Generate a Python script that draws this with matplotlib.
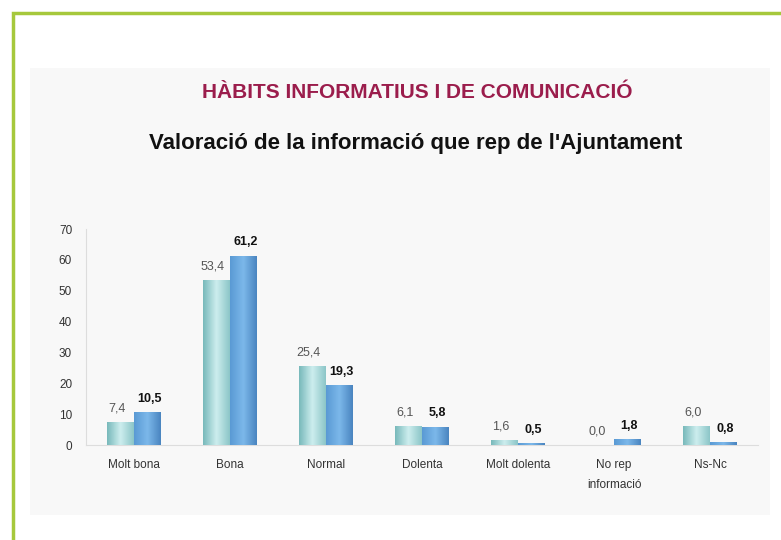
import numpy as np
import matplotlib.pyplot as plt
from matplotlib.patches import Rectangle
from matplotlib.colors import LinearSegmentedColormap

plt.rcParams['font.family'] = ['Liberation Sans', 'DejaVu Sans']

categories = ["Molt bona", "Bona", "Normal", "Dolenta", "Molt dolenta", "No rep\ninformació", "Ns-Nc"]
serie_a = [7.4, 53.4, 25.4, 6.1, 1.6, 0.0, 6.0]
serie_b = [10.5, 61.2, 19.3, 5.8, 0.5, 1.8, 0.8]
labels_a = ["7,4", "53,4", "25,4", "6,1", "1,6", "0,0", "6,0"]
labels_b = ["10,5", "61,2", "19,3", "5,8", "0,5", "1,8", "0,8"]
yticks = [0, 10, 20, 30, 40, 50, 60, 70]

fig = plt.figure(figsize=(7.81, 5.40), dpi=100)
fig.patch.set_facecolor("white")

# light grey panel behind the chart
fig.patches.append(Rectangle((30/781, 1 - 515/540), 740/781, 447/540, transform=fig.transFigure,
                             facecolor="#f8f8f8", edgecolor="none", zorder=-2))
# green frame (right/bottom edges run off the picture)
fig.patches.append(Rectangle((13/781, -0.1), 1.2, 1 - 13/540 + 0.1, transform=fig.transFigure,
                             fill=False, edgecolor="#a6c83c", linewidth=2.5, zorder=-1))

fig.text(0.534, 1 - 92/540, "HÀBITS INFORMATIUS I DE COMUNICACIÓ", ha="center", va="center",
         fontsize=15, fontweight="bold", color="#9b1d4c")
fig.text(0.532, 1 - 143/540, "Valoració de la informació que rep de l'Ajuntament", ha="center", va="center",
         fontsize=16, fontweight="bold", color="#111111")

ax = fig.add_axes([86/781, 1 - 445/540, 672/781, 216/540])
ax.set_facecolor("none")

x = np.arange(len(categories))
w = 0.28
bars_a = ax.bar(x - w/2, serie_a, w, color="#a6dada", zorder=2)
bars_b = ax.bar(x + w/2, serie_b, w, color="#5d9fd6", zorder=2)

cm_a = LinearSegmentedColormap.from_list("a", ["#78b9bb", "#cdeeee", "#8cc6c8"])
cm_b = LinearSegmentedColormap.from_list("b", ["#5a9ad4", "#7cb8ea", "#4a85c0"])
grad = np.linspace(0, 1, 64).reshape(1, -1)
for bars, cm in ((bars_a, cm_a), (bars_b, cm_b)):
    for b in bars:
        if b.get_height() <= 0:
            continue
        x0 = b.get_x()
        ax.imshow(grad, cmap=cm, aspect="auto", zorder=3,
                  extent=[x0, x0 + b.get_width(), 0, b.get_height()])

for i in range(len(categories)):
    ax.text(x[i] - w/2 - 0.04, max(serie_a[i], 0) + 2.5, labels_a[i], ha="center", va="bottom",
            fontsize=9, color="#555555", zorder=4)
    ax.text(x[i] + w/2 + 0.02, max(serie_b[i], 0) + 2.5, labels_b[i], ha="center", va="bottom",
            fontsize=9, fontweight="bold", color="#111111", zorder=4)

ax.set_xlim(-0.5, len(categories) - 0.5)
ax.set_ylim(0, 70)
ax.set_yticks(yticks)
ax.set_yticklabels([str(t) for t in yticks], fontsize=8.5, color="#333333")
ax.set_xticks(x)
ax.set_xticklabels(categories, fontsize=8.5, color="#333333", linespacing=1.9)
ax.tick_params(axis="x", length=0, pad=10)
ax.tick_params(axis="y", length=0, pad=10)
for s in ("top", "right"):
    ax.spines[s].set_visible(False)
ax.spines["left"].set_color("#dddddd")
ax.spines["bottom"].set_color("#dddddd")

fig.savefig("out.png", dpi=100)
